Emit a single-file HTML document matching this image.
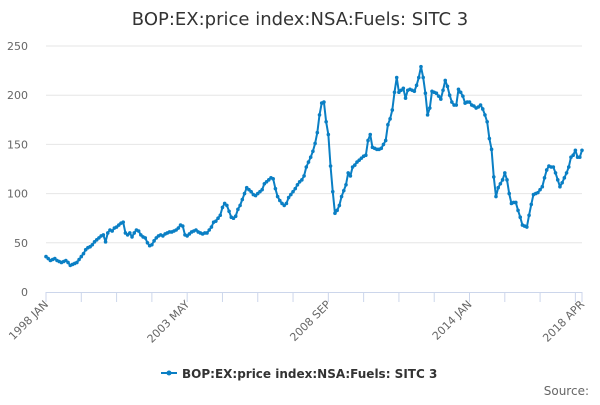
<!DOCTYPE html>
<html><head><meta charset="utf-8"><style>
body{margin:0;background:#fff;font-family:"Liberation Sans","DejaVu Sans",sans-serif}
svg text{font-family:"DejaVu Sans","Liberation Sans",sans-serif}
</style></head><body>
<svg id="chart" width="600" height="400" viewBox="0 0 600 400">
<text x="300" y="25" text-anchor="middle" font-size="18" fill="#333">BOP:EX:price index:NSA:Fuels: SITC 3</text>
<g id="grid"></g><g id="xaxis"></g><g id="series"></g>
<g>
<line x1="161" y1="373" x2="177" y2="373" stroke="#0a7fc4" stroke-width="2"/>
<circle cx="169" cy="373" r="2.5" fill="#0a7fc4"/>
<text x="182" y="378" font-size="12" font-weight="bold" fill="#333">BOP:EX:price index:NSA:Fuels: SITC 3</text>
</g>
<text x="589" y="395" text-anchor="end" font-size="12" fill="#666">Source:</text>
</svg>
<script>
const yTicks=[0,50,100,150,200,250];
const xTickLabels=["1998 JAN","2003 MAY","2008 SEP","2014 JAN","2018 APR"];
const xLabelMonths=[0,64,128,192,243];
const values1998_2005=[36,34,32,33,34,32,31,30,31,32,30,27,
28,29,30,33,36,39,43,45,46,48,51,53,
55,57,58,51,60,63,62,65,66,68,70,71,
60,58,60,56,60,63,62,58,56,55,50,47,
48,52,55,57,58,57,59,60,61,61,62,63,
65,68,67,58,57,59,61,62,63,61,60,59,
60,60,63,66,71,72,75,78,86,90,88,82,
76,75,77,84,88,94,100,106,104,102,99,98];
const values2006_2013=[100,102,104,110,112,114,116,115,105,97,93,90,
88,90,96,99,102,105,109,112,114,118,127,132,
137,143,151,162,180,192,193,173,160,128,102,80,
83,88,97,103,109,121,118,127,129,132,134,136,
138,139,154,160,147,146,145,145,146,150,154,170,
176,185,203,218,203,205,207,197,205,206,205,204,
210,218,229,218,202,180,187,204,203,202,199,196,
205,215,209,200,193,190,190,206,203,199,192,193];
const values2014_2018=[193,190,189,187,188,190,186,180,173,156,145,117,
97,106,110,114,121,114,100,90,91,91,83,76,
68,67,66,78,89,99,100,101,104,107,116,124,
128,127,127,121,114,107,111,116,121,127,137,139,
144,137,137,144];
const values=values1998_2005.concat(values2006_2013,values2014_2018);
const NS="http://www.w3.org/2000/svg";
const X0=46,X1=582,Y0=292,Y1=46;
const xs=i=>X0+(X1-X0)*i/(values.length-1);
const ys=v=>Y0-(Y0-Y1)*v/250;
function mk(t,a,p){const e=document.createElementNS(NS,t);for(const k in a)e.setAttribute(k,a[k]);p.appendChild(e);return e;}
const grid=document.getElementById('grid');
yTicks.forEach(v=>{
 const l=mk('line',{x1:X0,x2:X1,y1:ys(v),y2:ys(v),stroke:v===0?'none':'#e6e6e6'},grid);
 
 
 const t=mk('text',{x:28,y:ys(v)+4,'text-anchor':'end','font-size':11,fill:'#666'},grid);
 t.textContent=v;
 
 
});
const xa=document.getElementById('xaxis');
const al=mk('line',{x1:X0,x2:X1,y1:Y0+0.5,y2:Y0+0.5,stroke:'#ccd6eb'},xa);


for(let m=0;m<=243;m+=16){
 const tk=mk('line',{x1:xs(m),x2:xs(m),y1:Y0,y2:Y0+10,stroke:'#ccd6eb'},xa);
 
 
}
const tkEnd=mk('line',{x1:xs(243),x2:xs(243),y1:Y0,y2:Y0+10,stroke:'#ccd6eb'},xa);


xTickLabels.forEach((s,k)=>{
 const x=xs(xLabelMonths[k]);
 const t=mk('text',{x:x+3,y:Y0+13,'text-anchor':'end','font-size':11,fill:'#666',transform:`rotate(-45 ${x+3} ${Y0+13})`},xa);
 t.textContent=s;
 
 
});
const sg=document.getElementById('series');
const d=values.map((v,i)=>(i?'L':'M')+xs(i).toFixed(2)+','+ys(v).toFixed(2)).join('');
const p=mk('path',{d:d,fill:'none',stroke:'#0a7fc4','stroke-width':2,'stroke-linejoin':'round'},sg);


values.forEach((v,i)=>{
 const c=mk('circle',{cx:xs(i),cy:ys(v),r:1.8,fill:'#0a7fc4'},sg);
 
 
});
</script>
</body></html>
